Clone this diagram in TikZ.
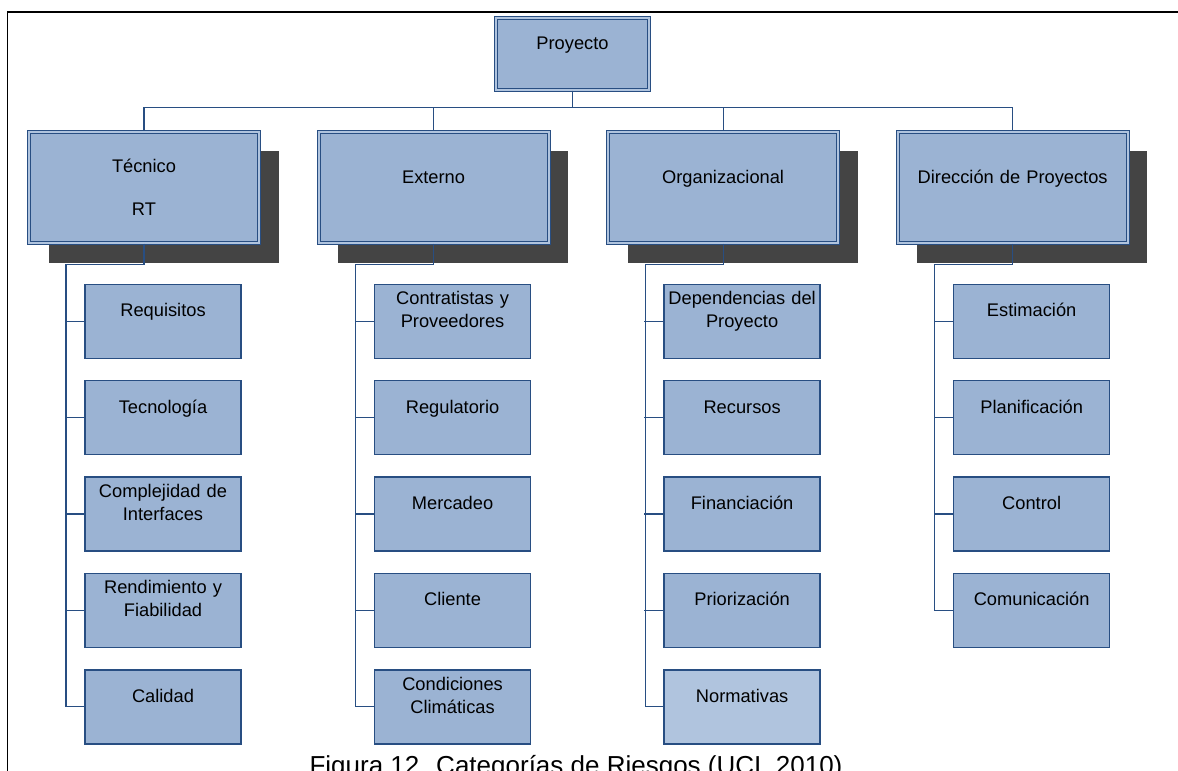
\documentclass[tikz,border=0pt]{standalone}
\usepackage{fontspec}
\setmainfont{Liberation Sans}
\usepackage{xcolor}
\usepackage{tikz}
\usetikzlibrary{positioning}
\usetikzlibrary{shadows}
\definecolor{boxblue}{RGB}{155,179,211}
\definecolor{paleblue}{RGB}{176,196,222}
\definecolor{edgeblue}{RGB}{40,78,130}
\definecolor{shadowgray}{RGB}{68,68,68}

\begin{document}
\begin{tikzpicture}[
rootnode/.style={rectangle, draw=edgeblue, double=paleblue, double distance=1.1pt, line width=0.6pt, fill=boxblue, inner sep=0pt, text width=3.06cm, align=center, text height=0.63cm, text depth=0.81cm, font=\fontsize{10.4pt}{13pt}\selectfont},
categorynode/.style={rectangle, draw=edgeblue, double=paleblue, double distance=1.1pt, line width=0.6pt, fill=boxblue, inner sep=0pt, text width=4.6cm, align=center, text height=1.03cm, text depth=1.19cm, font=\fontsize{10.4pt}{13pt}\selectfont, drop shadow={shadow xshift=0.39cm, shadow yshift=-0.39cm, fill=shadowgray, opacity=1}},
risknode/.style={rectangle, draw=edgeblue, line width=0.8pt, fill=boxblue, inner sep=0pt, text width=3.12cm, align=center, text height=0.65cm, text depth=0.83cm, font=\fontsize{10.4pt}{13pt}\selectfont},
risktwonode/.style={risknode, text height=0.41cm, text depth=1.07cm},
captionnode/.style={anchor=base, inner sep=0pt, font=\fontsize{14.8pt}{17pt}\selectfont},
link/.style={draw=edgeblue, line width=0.7pt},
node distance=0.42cm,
]
\useasboundingbox (0,0) rectangle (23.56,-15.42);
\draw[line width=0.9pt] (0.15,-15.42) |- (23.56,-0.245);

%Nodes
\node[rootnode]			(proy)	at (11.45,-1.08)		{Proyecto};
\node[categorynode, text height=0.81cm, text depth=1.41cm]	(tec)	at (2.88,-3.75)		{Técnico\\[0.4cm]RT};
\node[categorynode]		(ext)	[right=1.17cm of tec]	{Externo};
\node[categorynode]		(org)	[right=1.17cm of ext]	{Organizacional};
\node[categorynode]		(dir)	[right=1.17cm of org]	{Dirección de Proyectos};

\node[risknode]			(req)	[below=0.8cm of tec, xshift=0.38cm]	{Requisitos};
\node[risknode]			(tecn)	[below=of req]			{Tecnología};
\node[risktwonode]		(compl)	[below=of tecn]			{Complejidad de\\Interfaces};
\node[risktwonode]		(rend)	[below=of compl]		{Rendimiento y\\Fiabilidad};
\node[risknode]			(cal)	[below=of rend]			{Calidad};

\node[risktwonode]		(contr)	[below=0.8cm of ext, xshift=0.38cm]	{Contratistas y\\Proveedores};
\node[risknode]			(regu)	[below=of contr]		{Regulatorio};
\node[risknode]			(merc)	[below=of regu]			{Mercadeo};
\node[risknode]			(cli)	[below=of merc]			{Cliente};
\node[risktwonode]		(cond)	[below=of cli]			{Condiciones\\Climáticas};

\node[risktwonode]		(dep)	[below=0.8cm of org, xshift=0.38cm]	{Dependencias del\\Proyecto};
\node[risknode]			(recu)	[below=of dep]			{Recursos};
\node[risknode]			(fin)	[below=of recu]			{Financiación};
\node[risknode]			(prio)	[below=of fin]			{Priorización};
\node[risknode, fill=paleblue]	(norm)	[below=of prio]		{Normativas};

\node[risknode]			(esti)	[below=0.8cm of dir, xshift=0.38cm]	{Estimación};
\node[risknode]			(plan)	[below=of esti]			{Planificación};
\node[risknode]			(ctrl)	[below=of plan]			{Control};
\node[risknode]			(comu)	[below=of ctrl]			{Comunicación};

\node[captionnode]		(cap)	at (11.52,-15.48)		{Figura 12. Categorías de Riesgos (UCI, 2010)};

%Lines
\draw[link] (proy.south) -- ++(0,-0.34) coordinate (bus);
\foreach \cat in {tec,ext,org,dir}
	\draw[link] (bus) -| (\cat.north);

\draw[link] (tec.south) -- ++(0,-0.42) -- ++(-1.56,0) |- (cal.west);
\draw[link] (ext.south) -- ++(0,-0.42) -- ++(-1.56,0) |- (cond.west);
\draw[link] (org.south) -- ++(0,-0.42) -- ++(-1.56,0) |- (norm.west);
\draw[link] (dir.south) -- ++(0,-0.42) -- ++(-1.56,0) |- (comu.west);
\foreach \risk in {req,tecn,compl,rend,contr,regu,merc,cli,dep,recu,fin,prio,esti,plan,ctrl}
	\draw[link] (\risk.west) -- ++(-0.38,0);
\end{tikzpicture}
\end{document}
